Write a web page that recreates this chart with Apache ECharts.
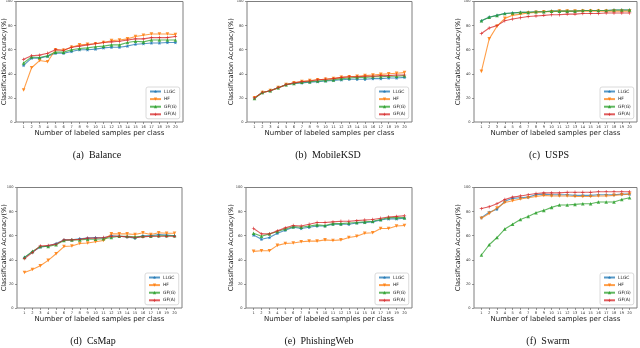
<!DOCTYPE html>
<html>
<head>
<meta charset="utf-8">
<script src="https://cdn.jsdelivr.net/npm/echarts@6/dist/echarts.min.js"></script>
<style>
  html, body { margin: 0; padding: 0; background: #fff; }
  #chart { width: 640px; height: 348px; }
</style>
</head>
<body>
<div id="chart"></div>
<script>
// samples per class
const xCats = [1, 2, 3, 4, 5, 6, 7, 8, 9, 10, 11, 12, 13, 14, 15, 16, 17, 18, 19, 20]
const yTicks = [0, 20, 40, 60, 80, 100]
const methods = ['LLGC', 'HF', 'GF(G)', 'GF(A)']
const captions = ['(a)  Balance', '(b)  MobileKSD', '(c)  USPS', '(d)  CsMap', '(e)  PhishingWeb', '(f)  Swarm']

// (a) Balance
const balanceLLGC = [47, 53, 53, 54.5, 57, 57, 58.5, 60, 60, 60.5, 61.5, 62, 62, 63, 64.5, 65, 65.5, 65.5, 66, 66]
const balanceHF = [26.5, 45, 51, 50, 60, 59.5, 62, 64, 64.5, 65, 66, 67.5, 68, 69, 71, 72, 73, 73, 73, 72.5]
const balanceGFG = [49, 54, 53.5, 55, 58, 58, 60, 61, 61.5, 62.5, 63, 64, 64, 66, 67, 66.5, 68, 68, 68, 68]
const balanceGFA = [52, 55, 55.5, 57, 60, 59.5, 62, 63, 64, 65, 66, 66.5, 67, 68, 69, 69, 70, 70, 70, 71]
// (b) MobileKSD
const mobileLLGC = [20, 24.5, 26, 28.5, 31, 32, 32.5, 33, 33.5, 34, 34.5, 35, 35.5, 35.5, 35.5, 36, 36, 36.5, 36.5, 37]
const mobileHF = [20, 24.5, 26, 28.5, 31, 32.5, 33.5, 34.5, 35, 35.5, 36, 37, 37.5, 38, 38.5, 39, 39.5, 40, 40.5, 41]
const mobileGFG = [19.5, 24.5, 26, 28.5, 31, 32, 33, 33.5, 34, 34.5, 35, 36, 36.5, 37, 37, 37.5, 37.5, 38, 38, 38.5]
const mobileGFA = [20, 24.5, 26, 28.5, 31, 32.5, 33.5, 34, 35, 35.5, 36, 37, 37.5, 37.5, 38, 38, 38.5, 38.5, 39, 39]
// (c) USPS
const uspsLLGC = [84, 87, 88.5, 90, 90.5, 91, 91, 91.5, 91.5, 92, 92, 92, 92, 92.5, 92.5, 92.5, 92.5, 93, 93, 93]
const uspsHF = [42, 69, 79.5, 86, 88.5, 89.5, 90.5, 91, 91.5, 91.5, 92, 92, 92, 92, 92, 92, 92, 92, 92, 92]
const uspsGFG = [84, 87, 88.5, 90, 90.5, 91, 91, 91.5, 91.5, 92, 92, 92, 92, 92.5, 92.5, 92.5, 92.5, 93, 93, 93]
const uspsGFA = [73.5, 78, 80, 84, 85.5, 86.5, 87.5, 88, 88.5, 89, 89, 89.5, 89.5, 90, 90, 90, 90.5, 90.5, 90.5, 90.5]
// (d) CsMap
const csmapLLGC = [42, 46.5, 50.5, 51.5, 53.5, 56.5, 56.5, 57.5, 58, 58.5, 58, 60, 59.5, 59, 58, 60, 60, 61, 60.5, 60]
const csmapHF = [29.5, 32, 35, 39.5, 45, 51, 51.5, 53.5, 54, 55, 56, 61.5, 61.5, 61.5, 61, 62.5, 61, 62.5, 62, 62]
const csmapGFG = [42, 47, 51, 51, 52.5, 56, 56.5, 56.5, 57, 57, 57.5, 58.5, 59.5, 59.5, 59, 59.5, 59.5, 60, 60, 60]
const csmapGFA = [41, 46, 51.5, 52, 53, 56.5, 56.5, 57, 58, 58, 58.5, 59.5, 59.5, 59, 58.5, 59, 59.5, 59.5, 59.5, 59.5]
// (e) PhishingWeb
const phishLLGC = [60.5, 57, 58.5, 62, 64.5, 67, 66, 67, 68, 68, 69.5, 69.5, 69.5, 70.5, 71, 71.5, 73, 74, 74, 74.5]
const phishHF = [47, 47.5, 47.5, 52, 53.5, 54, 55, 55.5, 55.5, 56.5, 56, 56.5, 58.5, 59.5, 62, 62.5, 66, 66, 68, 68.5]
const phishGFG = [62, 59.5, 61.5, 63.5, 65.5, 67.5, 67, 68, 69, 68.5, 70, 70, 70.5, 71, 71.5, 72, 73.5, 75, 75, 75]
const phishGFA = [66, 61.5, 61.5, 64, 66.5, 68.5, 68, 69.5, 71, 71, 71.5, 72, 72, 72.5, 73, 73.5, 74.5, 75.5, 76, 76.5]
// (f) Swarm
const swarmLLGC = [75, 79.5, 82, 88.5, 91, 91.5, 92, 94, 94.5, 94, 94, 94, 93.5, 93.5, 93.5, 94, 94, 94, 94.5, 94.5]
const swarmHF = [74.5, 78.5, 83, 87.5, 89, 90.5, 91.5, 92.5, 93.5, 93, 93, 93, 92.5, 92.5, 92.5, 93, 93, 93.5, 94, 94.5]
const swarmGFG = [44, 52.5, 58.5, 65.5, 69.5, 73.5, 76, 79, 81, 83.5, 85.5, 85.5, 86, 86.5, 86.5, 88, 88, 88, 90, 91.5]
const swarmGFA = [82.5, 84, 86.5, 90, 92, 93, 94, 95, 95.5, 95.5, 95.5, 96, 96, 96, 96, 96.5, 96.5, 96.5, 96.5, 96.5]

const panelData = [
  [balanceLLGC, balanceHF, balanceGFG, balanceGFA],
  [mobileLLGC, mobileHF, mobileGFG, mobileGFA],
  [uspsLLGC, uspsHF, uspsGFG, uspsGFA],
  [csmapLLGC, csmapHF, csmapGFG, csmapGFA],
  [phishLLGC, phishHF, phishGFG, phishGFA],
  [swarmLLGC, swarmHF, swarmGFG, swarmGFA]
]

// layout of each panel (plot frame in px) and the y label gap
const boxes = [
  { left: 16, top: 1.5, width: 167, height: 120.5, ygap: 8.5, cx: 97, cy: 150 },
  { left: 247, top: 1.5, width: 165, height: 120.5, ygap: 12.5, cx: 328, cy: 150 },
  { left: 474, top: 1.5, width: 163, height: 120.5, ygap: 12.5, cx: 549, cy: 150 },
  { left: 17, top: 187.5, width: 165, height: 120.5, ygap: 9.5, cx: 93, cy: 336 },
  { left: 246, top: 187.5, width: 166, height: 120.5, ygap: 11.5, cx: 319, cy: 336 },
  { left: 474, top: 187.5, width: 163, height: 120.5, ygap: 12.5, cx: 548, cy: 336 }
]

const colors = ['#1f77b4', '#ff7f0e', '#2ca02c', '#d62728']
const star = 'path://M0,-10L2.9,-4L9.5,-3.1L4.7,1.5L5.9,8.1L0,5L-5.9,8.1L-4.7,1.5L-9.5,-3.1L-2.9,-4Z'
const markers = [star, 'path://M-10,-8L10,-8L0,9Z', 'triangle', 'path://M-2,-10L2,-10L2,-2L10,-2L10,2L2,2L2,10L-2,10L-2,2L-10,2L-10,-2L-2,-2Z']
const font = 'DejaVu Sans'

const grid = [], xAxis = [], yAxis = [], series = [], legend = [], graphic = []
boxes.forEach((b, i) => {
  grid.push({
    left: b.left, top: b.top, width: b.width, height: b.height,
    show: true, borderColor: '#7f7f7f', borderWidth: 1, backgroundColor: 'transparent',
    containLabel: false, outerBoundsMode: 'none'
  })
  xAxis.push({
    type: 'value', gridIndex: i, min: 0.05, max: 20.95,
    name: 'Number of labeled samples per class', nameLocation: 'middle', nameGap: 7.5,
    nameMoveOverlap: false,
    nameTextStyle: { fontFamily: font, fontSize: 7, color: '#222' },
    axisLine: { show: false },
    axisTick: { show: true, length: 2, customValues: xCats, lineStyle: { color: '#555', width: 0.6 } },
    axisLabel: { customValues: xCats, fontSize: 3.6, fontFamily: font, color: '#333', margin: 3 },
    splitLine: { show: false }
  })
  yAxis.push({
    type: 'value', gridIndex: i, min: 0, max: 100, interval: 20,
    name: 'Classification Accuracy(%)', nameLocation: 'middle', nameGap: b.ygap, nameRotate: 90,
    nameMoveOverlap: false,
    nameTextStyle: { fontFamily: font, fontSize: 6.6, color: '#222' },
    axisLine: { show: false },
    axisTick: { show: true, length: 2, lineStyle: { color: '#555', width: 0.6 } },
    axisLabel: { fontSize: 3.6, fontFamily: font, color: '#333', margin: 3.5 },
    splitLine: { show: false }
  })
  panelData[i].forEach((vals, k) => {
    series.push({
      name: methods[k], type: 'line', xAxisIndex: i, yAxisIndex: i,
      data: xCats.map((x, j) => [x, vals[j]]),
      symbol: markers[k], symbolSize: k === 3 ? 3.4 : 3.6,
      color: colors[k],
      lineStyle: { width: 1.1, opacity: 0.75 },
      itemStyle: { opacity: 0.85 },
      emphasis: { disabled: true },
      animation: false
    })
  })
  legend.push({
    orient: 'vertical',
    left: b.left + b.width - 37, top: b.top + b.height - 35,
    data: methods,
    itemWidth: 11, itemHeight: 4, itemGap: 3.6,
    padding: [2.5, 3, 2.5, 3],
    borderColor: '#d0d0d0', borderWidth: 0.8, borderRadius: 2,
    backgroundColor: 'rgba(255,255,255,0.8)',
    textStyle: { fontFamily: font, fontSize: 4.4, color: '#222', padding: [0, 0, 0, -2] },
    selectedMode: false
  })
  graphic.push({
    type: 'text', x: b.cx, y: b.cy,
    style: { text: captions[i], font: '10px "Liberation Serif"', fill: '#111', align: 'center', verticalAlign: 'top' }
  })
})

const chart = echarts.init(document.getElementById('chart'), null, { renderer: 'canvas' })
chart.setOption({
  animation: false,
  backgroundColor: '#fff',
  grid, xAxis, yAxis, series, legend, graphic
})
</script>
</body>
</html>
